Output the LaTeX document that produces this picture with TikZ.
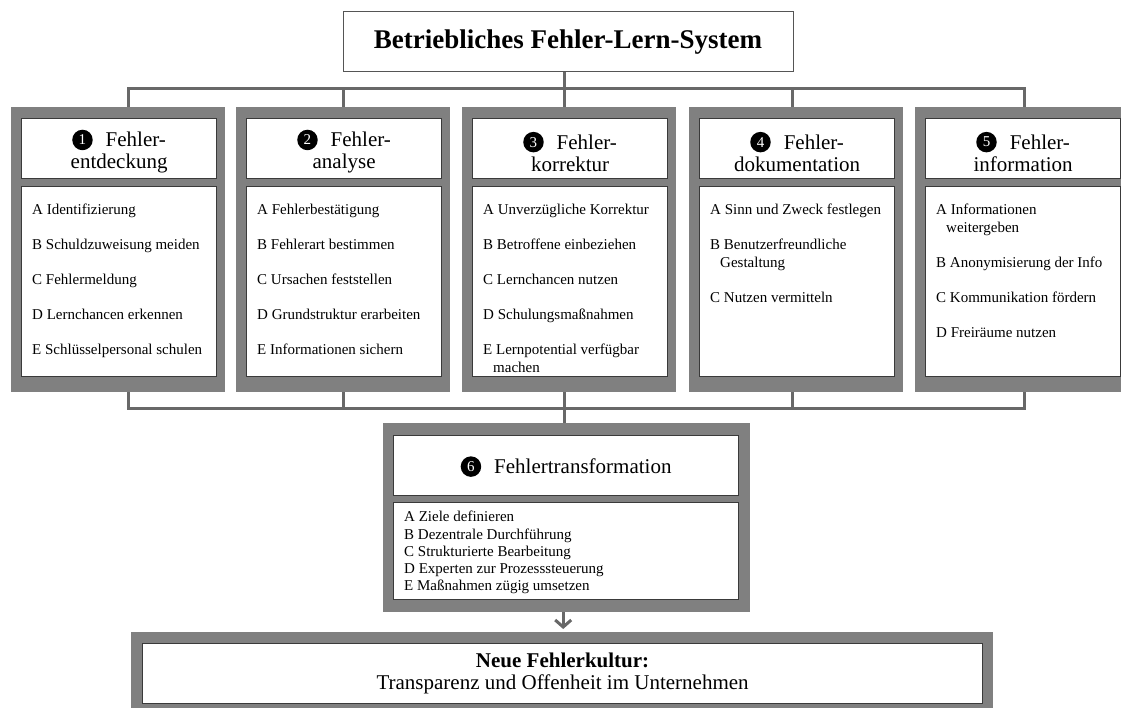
\documentclass[tikz,border=0pt]{standalone}
\usepackage{fontspec}
\setmainfont{Liberation Serif}
\usetikzlibrary{arrows.meta}
\definecolor{boxgray}{HTML}{808080}
\definecolor{conngray}{HTML}{686868}
\definecolor{edgegray}{HTML}{3A3A3A}
\definecolor{titleedge}{HTML}{555555}
\newcommand\numdot[1]{\tikz[baseline=-7pt]\node[circle,fill=black,draw=none,text=white,inner sep=0pt,minimum size=20.5pt,anchor=center,font=\fontsize{15}{15}\selectfont] (numc#1) {#1};}
\newcommand\fcol[4]{%
  \node[graybox, anchor=north west, minimum width=214pt, minimum height=285pt] (g#1) at (#2,107) {};
  \node[whitebox, anchor=north west, minimum width=195pt, minimum height=60pt] (h#1) at (#2+10,118) {};
  \node[whitebox, anchor=north west, minimum width=195pt, minimum height=190pt] (l#1) at (#2+10,186) {};
  \node[hdr] (ht#1) at ([yshift=-3pt]h#1.center) {\numdot{#1}\hspace{13pt}Fehler-\\#3};
  \node[lst] (lt#1) at (#2+21,204) {#4};
}
\begin{document}
\begin{tikzpicture}[x=1pt,y=-1pt,
  conn/.style={draw=conngray, line width=3pt},
  graybox/.style={fill=boxgray, draw=none, inner sep=0pt},
  whitebox/.style={fill=white, draw=edgegray, line width=1.2pt, inner sep=0pt},
  hdr/.style={font=\fontsize{21}{22}\selectfont, align=center, inner sep=0pt},
  lst/.style={font=\fontsize{15}{18}\selectfont, align=left, anchor=north west, inner sep=0pt},
]
\useasboundingbox (0,0) rectangle (1121,708);
\clip (0,0) rectangle (1121,708);

% title
\node[draw=titleedge, line width=1pt, fill=white, minimum width=450pt, minimum height=60pt, inner sep=0pt,
      font=\fontsize{27}{30}\selectfont\bfseries] (title) at (568,42) {Betriebliches Fehler-Lern-System};

% columns
\fcol{1}{11}{entdeckung}{A Identifizierung\\[17pt]B Schuldzuweisung meiden\\[17pt]C Fehlermeldung\\[17pt]D Lernchancen erkennen\\[17pt]E Schlüsselpersonal schulen}
\fcol{2}{236}{analyse}{A Fehlerbestätigung\\[17pt]B Fehlerart bestimmen\\[17pt]C Ursachen feststellen\\[17pt]D Grundstruktur erarbeiten\\[17pt]E Informationen sichern}
\fcol{3}{462}{korrektur}{A Unverzügliche Korrektur\\[17pt]B Betroffene einbeziehen\\[17pt]C Lernchancen nutzen\\[17pt]D Schulungsmaßnahmen\\[17pt]E Lernpotential verfügbar\\\hspace*{10pt}machen}
\fcol{4}{689}{dokumentation}{A Sinn und Zweck festlegen\\[17pt]B Benutzerfreundliche\\\hspace*{10pt}Gestaltung\\[17pt]C Nutzen vermitteln}
\fcol{5}{915}{information}{A Informationen\\\hspace*{10pt}weitergeben\\[17pt]B Anonymisierung der Info\\[17pt]C Kommunikation fördern\\[17pt]D Freiräume nutzen}

% column 6
\node[graybox, anchor=north west, minimum width=367pt, minimum height=189pt] (g6) at (383,423) {};
\node[whitebox, anchor=north west, minimum width=345pt, minimum height=60pt] (h6) at (393,435) {};
\node[whitebox, anchor=north west, minimum width=345pt, minimum height=97pt] (l6) at (393,502) {};
\node[hdr] (ht6) at ([yshift=-1pt]h6.center) {\numdot{6}\hspace{13pt}Fehlertransformation};
\node[lst, font=\fontsize{15}{17.3}\selectfont] (lt6) at (404,511) {A Ziele definieren\\B Dezentrale Durchführung\\C Strukturierte Bearbeitung\\D Experten zur Prozesssteuerung\\E Maßnahmen zügig umsetzen};

% bottom box
\node[graybox, anchor=north west, minimum width=862pt, minimum height=90pt] (gb) at (131,632) {};
\node[whitebox, anchor=north west, minimum width=840pt, minimum height=60pt] (bot) at (142,643) {};
\node[hdr] (bt) at (bot.center) {\textbf{Neue Fehlerkultur:}\\Transparenz und Offenheit im Unternehmen};

% top connectors
\draw[conn] ([xshift=10pt]g1.north) -- ++(0,-18) -| ([xshift=2pt]g5.north);
\draw[conn] (g2.north) -- ++(0,-18);
\draw[conn] ([xshift=-5pt]g3.north) -- ([xshift=-5pt]g3.north |- title.south);
\draw[conn] ([xshift=-4pt]g4.north) -- ++(0,-18);

% bottom connectors
\draw[conn] ([xshift=10pt]g1.south) -- ++(0,16) -| ([xshift=2pt]g5.south);
\draw[conn] (g2.south) -- ++(0,16);
\draw[conn] ([xshift=-5pt]g3.south) -- ([xshift=-5pt]g3.south |- g6.north);
\draw[conn] ([xshift=-4pt]g4.south) -- ++(0,16);

% arrow
\draw[conn, -{Straight Barb[length=7pt,width=16pt]}, shorten >=3pt] ([xshift=-3.5pt]g6.south) -- ([xshift=-3.5pt]g6.south |- gb.north);
\end{tikzpicture}
\end{document}
